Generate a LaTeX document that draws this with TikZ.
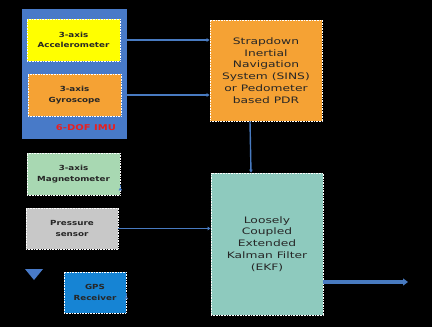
\documentclass[tikz,border=0pt]{standalone}
\usepackage{fontspec}
\setmainfont{DejaVu Sans}
\newfontfamily\widefont[FakeStretch=1.38]{DejaVu Sans}
\newfontfamily\sensorfont[FakeStretch=1.25]{DejaVu Sans}
\usetikzlibrary{arrows.meta,calc}
\definecolor{imublue}{RGB}{72,122,200}
\definecolor{accyellow}{RGB}{255,255,0}
\definecolor{gyroorange}{RGB}{245,162,52}
\definecolor{ekfteal}{RGB}{142,202,190}
\definecolor{maggreen}{RGB}{168,216,178}
\definecolor{presgray}{RGB}{200,200,200}
\definecolor{gpsblue}{RGB}{22,132,212}
\definecolor{linkblue}{RGB}{72,122,192}
\definecolor{imured}{RGB}{232,32,32}

\begin{document}
\begin{tikzpicture}[x=1pt,y=-1pt,
    sensorbox/.style={draw=white,densely dotted,line width=0.6pt,align=center,
        font=\sensorfont\fontsize{7}{10.5}\selectfont\bfseries,text=black!85,inner sep=0pt},
    bigbox/.style={draw=white,densely dotted,line width=0.6pt,align=center,
        font=\widefont\fontsize{8.9}{11.8}\selectfont,text=black!85,inner sep=0pt},
    link/.style={draw=linkblue,line width=1.4pt,-{Latex[length=3pt,width=4pt]}}]
    \fill[black] (0,0) rectangle (432,327);
    \useasboundingbox (0,0) rectangle (432,327);
    \node[fill=imublue,minimum width=105pt,minimum height=130pt,inner sep=0pt] (imu) at (74.5,74) {};
    \node[sensorbox,fill=accyellow,minimum width=93pt,minimum height=42pt] (acc) at (73.5,40) {3-axis\\Accelerometer};
    \node[sensorbox,fill=gyroorange,minimum width=93pt,minimum height=42pt] (gyro) at (74.5,95) {3-axis\\Gyroscope};
    \node[text=imured,font=\sensorfont\fontsize{8}{10}\selectfont\bfseries] (imulabel) at (86,128) {6-DOF IMU};
    \node[bigbox,fill=gyroorange,minimum width=112pt,minimum height=101pt] (sins) at (266,70.5) {Strapdown\\Inertial\\Navigation\\System (SINS)\\or Pedometer\\based PDR};
    \node[bigbox,fill=ekfteal,minimum width=112pt,minimum height=142pt] (ekf) at (267,244) {Loosely\\Coupled\\Extended\\Kalman Filter\\(EKF)};
    \node[sensorbox,fill=maggreen,minimum width=93pt,minimum height=42pt] (mag) at (73.5,174) {3-axis\\Magnetometer};
    \node[sensorbox,fill=presgray,minimum width=92pt,minimum height=41pt] (pres) at (72,228.5) {Pressure\\sensor};
    \node[sensorbox,fill=gpsblue,minimum width=62pt,minimum height=41pt] (gps) at (95,292.5) {GPS\\Receiver};
    \fill[imublue] (25,269) -- (43,269) -- (34,280) -- cycle;
    \draw[link] (imu.east |- acc) -- (sins.west |- acc);
    \draw[link] (imu.east |- gyro) -- (sins.west |- gyro);
    \draw[link] ($(sins.south)+(-16,0)$) -- ($(ekf.north)+(-16,0)$);
    \draw[link] ($(mag.south east)+(0,-8)$) -- ($(mag.south east)+(0,-8)$ -| ekf.west);
    \draw[link] (pres.east) -- (pres.east -| ekf.west);
    \draw[link] ($(gps.east)+(0,3.5)$) -- ($(gps.east)+(0,3.5)$ -| ekf.west);
    \coordinate (out) at (408,282);
    \draw[draw=linkblue,line width=4.5pt,-{Triangle[length=5pt,width=7pt]}] (ekf.east |- out) -- (out);
\end{tikzpicture}
\end{document}
